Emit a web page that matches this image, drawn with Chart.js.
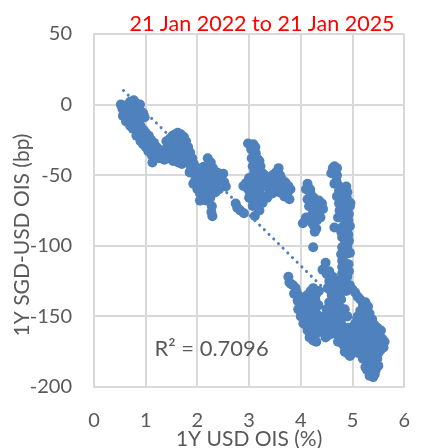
<!DOCTYPE html>
<html>
<head>
<meta charset="utf-8">
<script src="https://cdn.jsdelivr.net/npm/chart.js@4.4.1/dist/chart.umd.min.js"></script>
<style>
  html, body { margin: 0; padding: 0; background: #ffffff; }
  #wrap { width: 432px; height: 448px; }
</style>
</head>
<body>
<div id="wrap"><canvas id="oisChart" width="432" height="448"></canvas></div>
<script>
// 1Y USD OIS (%) vs 1Y SGD-USD OIS spread (bp)
var points = [
  [0.52,0],[0.55,-3],[0.58,-6],[0.6,-1],[0.63,-4],[0.66,-8],[0.68,-5],[0.7,-10],[0.74,-12],[0.78,-9],
  [0.8,-14],[0.83,-17],[0.86,-12],[0.88,-19],[0.9,-15],[0.93,-21],[0.96,-18],[0.98,-24],[1.0,-20],[1.03,-26],
  [1.06,-22],[1.08,-28],[1.1,-25],[1.13,-31],[1.16,-27],[1.18,-33],[1.21,-30],[1.24,-35],[1.27,-32],[1.3,-37],
  [1.33,-35],[1.36,-39],[1.26,-38],[1.13,-41],
  [0.77,3],[0.8,1],[0.85,0],[0.89,0],[0.91,-5],[0.85,-7],[0.95,-6],[0.98,-9],[0.76,-3],[0.72,-1],
  [0.56,-8],[0.62,-12],[0.7,-15],[0.75,-17],[0.82,-22],[0.9,-26],[0.95,-28],[1.0,-30],[1.05,-33],[1.12,-36],
  [1.2,-38],[0.7,2],[0.65,0],
  [1.47,-24],[1.52,-22],[1.57,-21],[1.62,-20],[1.68,-21],[1.74,-23],[1.78,-26],[1.82,-30],[1.86,-34],[1.9,-38],
  [1.93,-42],[1.5,-28],[1.48,-33],[1.53,-37],[1.58,-39],[1.63,-41],[1.7,-42],[1.76,-40],[1.8,-36],[1.65,-27],
  [1.72,-31],[1.55,-31],[1.85,-42],[1.53,-40],[1.42,-30],[1.4,-26],
  [1.6,-25],[1.68,-35],[1.75,-35],[1.6,-33],[1.45,-38],[1.88,-45],[1.95,-47],
  [2.2,-38],[2.26,-41],[2.3,-45],[2.12,-44],[2.06,-47],[2.0,-50],[2.15,-50],[2.25,-50],[2.35,-52],[2.45,-53],
  [2.52,-55],[2.4,-57],[2.3,-56],[2.2,-55],[2.1,-55],[1.96,-53],[1.92,-56],[1.85,-48],[2.0,-60],[2.05,-63],
  [2.12,-61],[2.22,-62],[2.3,-60],[2.1,-67],[2.18,-68],[2.25,-66],[2.28,-72],[2.27,-76],[2.29,-79],[2.5,-49],
  [2.55,-58],[2.38,-48],
  [2.05,-55],[2.15,-58],[2.3,-53],[2.42,-60],[2.18,-45],[2.05,-68],[2.15,-63],[2.45,-56],[2.35,-62],
  [2.74,-70],[2.77,-73],[2.83,-75],[2.9,-77],
  [2.98,-27.5],[3.04,-31.7],[3.13,-34.5],[3.17,-38.7],[3.22,-43.7],[3.07,-43.7],[3.26,-48.6],[3.13,-52.8],[2.94,-55.6],[2.89,-57.7],
  [3.02,-62.7],[3.13,-64.8],[3.26,-69.7],[3.07,-71.8],[3.11,-78.9],[3.08,-28],[3.12,-30],[3.2,-40],[3.15,-45],[3.2,-50],
  [3.1,-58],[3.18,-58],[3.2,-62],[2.98,-60],[3.05,-67],[3.15,-72],[3.2,-75],[3.05,-38],[3.1,-40],
  [3.0,-52],[3.05,-57],[3.22,-55],[3.25,-65],[3.0,-66],[3.18,-67],[3.1,-48],[3.25,-58],
  [3.39,-52.8],[3.57,-45],[3.63,-52.8],[3.76,-57.7],[3.5,-60],[3.39,-62.7],[3.78,-67],[3.31,-57.7],[3.45,-50],[3.55,-55],
  [3.65,-60],[3.7,-55],[3.3,-50],[3.35,-66],[3.45,-63],[3.6,-50],[3.8,-60],[3.72,-62],
  [3.4,-57],[3.5,-53],[3.58,-62],[3.68,-65],[3.62,-57],[3.75,-62],[3.52,-48],
  [4.13,-56],[4.19,-63],[4.13,-67],[4.41,-70],[4.43,-74],[4.28,-77],[4.31,-82],[4.24,-85],[4.04,-84],[4.2,-70],
  [4.25,-66],[4.35,-68],[4.22,-78],[4.3,-88],[4.18,-60],[4.35,-76],[4.24,-101],[4.48,-112],[4.42,-117],
  [4.1,-60],[4.16,-72],[4.3,-72],[4.38,-80],[4.2,-83],[4.1,-80],[4.27,-90],
  [4.65,-43.7],[4.59,-48.6],[4.69,-54],[4.65,-56],[4.74,-61],[4.8,-63],[4.89,-66],[4.96,-69.7],[4.74,-70],[4.87,-75],
  [4.93,-77.5],[4.83,-80],[4.65,-87],[4.8,-87],[4.89,-89],[4.8,-94],[4.93,-96.5],[4.8,-101],[4.89,-105.6],[4.8,-110.6],
  [4.87,-117.6],[4.8,-119.7],[4.85,-84],[4.9,-100],[4.85,-112],[4.9,-122],[4.85,-127],[4.78,-124],[4.95,-72],[4.88,-58],
  [4.7,-50],[4.75,-58],[4.85,-70],
  [4.7,-65],[4.78,-68],[4.92,-82],[4.75,-75],[4.8,-77],[4.92,-92],[4.78,-90],[4.85,-96],[4.95,-105],[4.78,-106],
  [4.92,-113],[4.8,-115],[4.93,-118],[4.88,-132],[4.95,-86],[4.72,-80],[4.9,-62],[4.62,-45],[4.7,-45],
  [3.76,-122],[3.81,-127],[3.87,-134],[3.94,-139],[4.04,-144],[4.0,-150],[4.19,-153],[4.13,-160],[4.24,-167],[4.31,-162],
  [4.37,-150],[4.19,-132],[4.24,-130],[3.78,-126],[3.9,-130],[3.98,-136],[4.05,-138],[4.1,-145],[4.15,-148],[4.08,-152],
  [4.1,-156],[4.2,-158],[4.27,-155],[4.3,-148],[4.34,-142],[4.28,-138],[4.22,-142],[4.15,-140],[4.17,-165],[4.25,-162],
  [4.35,-157],[4.3,-134],[4.12,-135],[4.05,-155],
  [3.85,-128],[3.95,-145],[4.02,-140],[4.1,-150],[4.15,-155],[4.22,-150],[4.3,-155],[4.38,-160],[4.2,-162],[4.3,-168],
  [4.28,-145],[3.92,-133],[4.08,-142],[4.25,-135],[4.35,-132],
  [4.56,-127],[4.61,-129],[4.68,-136],[4.74,-143],[4.68,-150],[4.8,-158],[4.74,-165],[4.93,-165],[4.98,-169],[5.06,-174],
  [4.68,-160],[4.5,-120],[4.55,-118],[4.62,-122],[4.52,-130],[4.6,-135],[4.55,-140],[4.65,-142],[4.6,-148],[4.7,-146],
  [4.75,-152],[4.62,-155],[4.7,-156],[4.78,-163],[4.85,-160],[4.88,-166],[4.82,-170],[4.92,-172],[5.0,-176],[4.9,-176],
  [4.8,-150],[4.85,-145],[4.78,-138],[4.72,-130],[4.66,-124],[4.45,-150],[4.5,-158],[4.55,-163],[4.58,-155],
  [4.55,-125],[4.58,-132],[4.65,-130],[4.7,-140],[4.62,-140],[4.65,-150],[4.72,-160],[4.78,-155],[4.82,-165],[4.88,-170],
  [4.95,-168],[4.72,-168],[4.62,-162],[4.5,-145],[4.42,-155],[4.48,-165],[4.55,-150],[4.75,-135],[4.8,-145],[4.9,-150],
  [4.92,-158],[4.95,-178],[5.05,-168],[4.85,-175],
  [4.95,-128],[5.0,-131],[5.05,-133],[5.1,-136],[5.15,-138],[5.2,-141],[5.25,-140],[5.3,-143],[5.33,-148],[5.38,-152],
  [5.42,-156],[5.48,-158],[5.52,-163],[5.58,-166],[5.62,-168],[5.6,-172],[5.54,-174],[5.1,-150],[5.15,-146],[5.2,-152],
  [5.25,-156],[5.3,-160],[5.35,-163],[5.4,-166],[5.45,-170],[5.5,-168],[5.12,-158],[5.18,-162],[5.08,-165],[5.22,-167],
  [5.3,-170],[5.38,-174],[5.15,-170],[5.24,-176],[5.3,-178],[5.35,-182],[5.4,-185],[5.45,-188],[5.43,-191],[5.38,-189],
  [5.33,-186],[5.27,-182],[5.2,-180],[5.12,-176],[5.48,-180],[5.5,-176],[5.44,-178],[5.05,-155],[5.0,-160],[5.25,-148],
  [5.15,-155],[5.28,-152],[5.33,-156],[5.4,-160],[5.45,-163],[5.55,-160],[5.28,-165],[5.35,-170],[5.42,-172],[5.2,-172],
  [5.1,-170],[5.05,-162],[5.2,-160],[5.28,-188],[5.33,-192],[5.4,-193],[5.38,-178],[5.25,-186],[5.5,-185],[5.3,-175],
  [5.55,-170],[5.18,-150],[5.15,-165]
];

// linear trendline ends (dotted in the picture)
var trendX = [0.57, 5.6];
var trendY = [10, -172];

var yTicks = [-200, -150, -100, -50, 0, 50];
var xTicks = [0, 1, 2, 3, 4, 5, 6];

var titleText = '21 Jan 2022 to 21 Jan 2025';
var rSquared = 'R\u00B2 = 0.7096';
var xTitle = '1Y USD OIS (%)';
var yTitle = '1Y SGD-USD OIS (bp)';

var FONT = 'Lato, "Open Sans", sans-serif';
var GREY = '#595959';
var BLUE = '#4F81BD';
var GRID = '#D9D9D9';

// extra texts: red title, rotated y title, R2 label
var labelsPlugin = {
    id: 'extraLabels',
    afterDraw: function (chart) {
        var ctx = chart.ctx;
        var xs = chart.scales.x;
        var ys = chart.scales.y;
        ctx.save();
        ctx.fillStyle = '#FF0000';
        ctx.font = '21.5px ' + FONT;
        ctx.textAlign = 'center';
        ctx.textBaseline = 'alphabetic';
        ctx.fillText(titleText, 262, 31);

        ctx.fillStyle = GREY;
        ctx.font = '22px ' + FONT;
        ctx.textAlign = 'left';
        ctx.fillText(rSquared, xs.getPixelForValue(1.17), ys.getPixelForValue(-178));

        ctx.font = '21px ' + FONT;
        ctx.translate(22, 235);
        ctx.rotate(-Math.PI / 2);
        ctx.textAlign = 'center';
        ctx.textBaseline = 'middle';
        ctx.fillText(yTitle, 0, 0);
        ctx.restore();
    }
};

var trend = trendX.map(function (x, i) { return { x: x, y: trendY[i] }; });
var scatter = points.map(function (p) { return { x: p[0], y: p[1] }; });

var ctx = document.getElementById('oisChart').getContext('2d');
var chart = new Chart(ctx, {
    type: 'scatter',
    data: {
        datasets: [
            {
                label: 'Observations',
                data: scatter,
                backgroundColor: BLUE,
                borderWidth: 0,
                pointRadius: 5,
                pointHoverRadius: 5
            },
            {
                label: 'Linear trend',
                type: 'line',
                data: trend,
                borderColor: BLUE,
                borderWidth: 3,
                borderDash: [0.1, 6.5],
                borderCapStyle: 'round',
                pointRadius: 0,
                fill: false
            }
        ]
    },
    options: {
        responsive: false,
        animation: false,
        layout: { padding: { top: 33, right: 14, left: 0, bottom: 0 } },
        plugins: {
            legend: { display: false },
            tooltip: { enabled: false }
        },
        scales: {
            x: {
                type: 'linear',
                min: xTicks[0],
                max: xTicks[xTicks.length - 1],
                afterFit: function (s) { s.height = 61; },
                ticks: { stepSize: 1, color: GREY, padding: 22, font: { family: FONT, size: 20 } },
                grid: { color: GRID, lineWidth: 2, drawTicks: false },
                border: { color: GRID, width: 2 },
                title: {
                    display: true,
                    text: xTitle,
                    color: GREY,
                    padding: 0,
                    font: { family: FONT, size: 21, lineHeight: 0.8 }
                }
            },
            y: {
                min: yTicks[0],
                max: yTicks[yTicks.length - 1],
                afterFit: function (s) { s.width = 94; },
                ticks: { stepSize: 50, color: GREY, padding: 22, font: { family: FONT, size: 20 } },
                grid: { color: GRID, lineWidth: 2, drawTicks: false },
                border: { color: GRID, width: 2 }
            }
        }
    },
    plugins: [labelsPlugin]
});
</script>
</body>
</html>
